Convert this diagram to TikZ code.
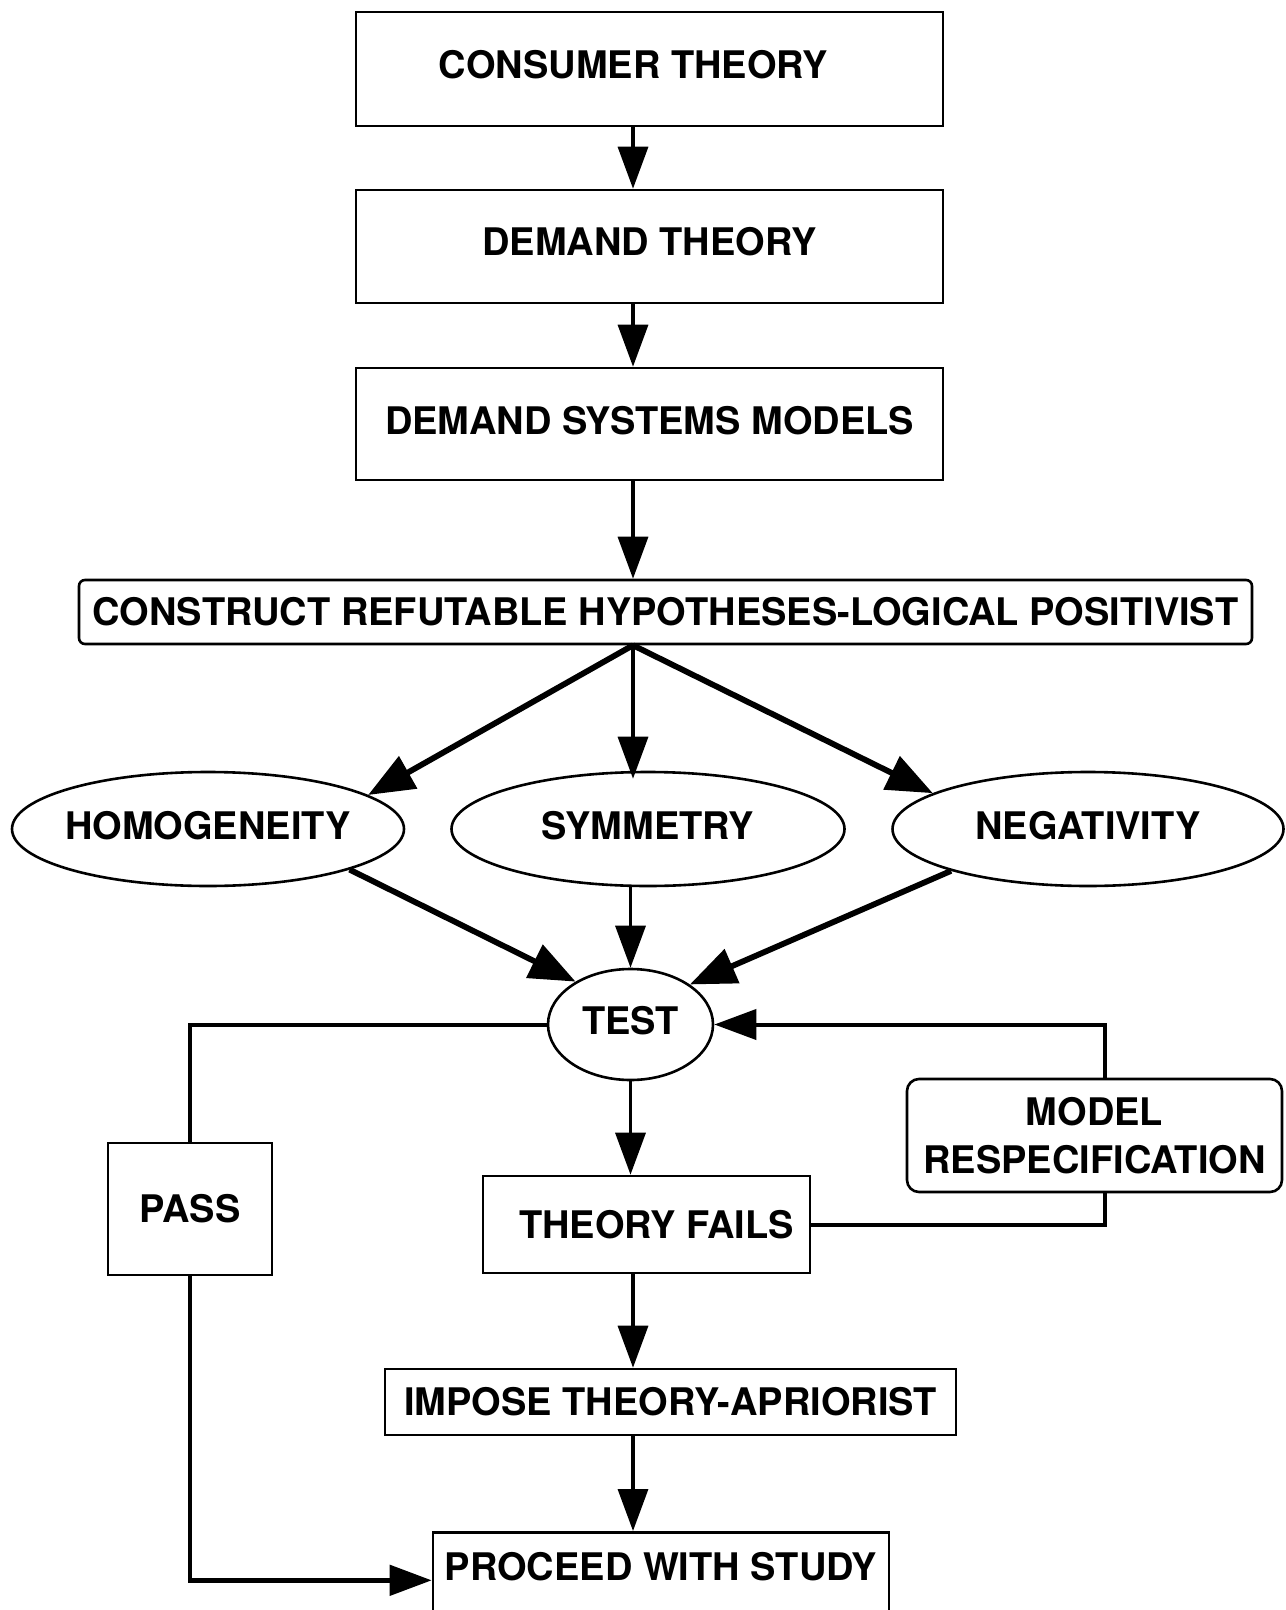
\documentclass[tikz,border=0pt]{standalone}
\usepackage{fontspec}
\setmainfont{TeX Gyre Heros}
\usetikzlibrary{arrows.meta,shapes.geometric}

\begin{document}
\begin{tikzpicture}[x=0.5pt,y=-0.5pt,
  font=\fontsize{19}{24}\selectfont\bfseries,
  box/.style={draw,line width=1.3pt,inner sep=2pt},
  oval/.style={ellipse,draw,line width=1.3pt,inner xsep=-6pt,inner ysep=0pt,text depth=4pt},
  arr/.style={-{Triangle[length=21pt,width=15pt]},line width=1.7pt},
  fat/.style={-{Triangle[length=23pt,width=18pt]},line width=2.9pt},
  link/.style={line width=2pt}]
\useasboundingbox (0,0) rectangle (1285,1610);
\coordinate (spine) at (633,0);
% top column
\node[box,text depth=5pt,minimum width=293.5pt,minimum height=57pt] (cons) at (649.5,69) {CONSUMER THEORY\hspace*{16pt}};
\node[box,text depth=5pt,minimum width=293.5pt,minimum height=56.5pt] (dem) at (649.5,246.5) {DEMAND THEORY};
\node[box,text depth=4pt,minimum width=293.5pt,minimum height=56pt] (dsm) at (649.5,424) {DEMAND SYSTEMS MODELS};
\node[box,rounded corners=3pt,minimum width=586.5pt,minimum height=32pt] (hyp) at (665.5,612) {CONSTRUCT REFUTABLE HYPOTHESES-LOGICAL POSITIVIST};
% restrictions
\node[oval,minimum width=196pt,minimum height=57pt] (homo) at (208,829) {HOMOGENEITY};
\node[oval,minimum width=196.5pt,minimum height=57pt] (sym) at (648,829) {SYMMETRY};
\node[oval,minimum width=195.5pt,minimum height=57pt] (neg) at (1088,829) {NEGATIVITY};
\node[oval,minimum width=82.5pt,minimum height=55.5pt] (test) at (630.5,1024.5) {TEST};
% outcomes
\node[box,minimum width=82pt,minimum height=66pt] (pass) at (190,1209) {PASS};
\node[box,minimum width=163.5pt,minimum height=48.5pt] (fail) at (646.5,1224.5) {\hspace*{10pt}THEORY FAILS};
\node[box,rounded corners=6pt,align=center,minimum width=187.5pt,minimum height=56.5pt] (resp) at (1094.5,1135.5) {MODEL\\RESPECIFICATION};
\node[box,minimum width=285.5pt,minimum height=33pt] (impose) at (670.5,1402) {IMPOSE THEORY-APRIORIST};
\node[box,anchor=north,minimum width=228pt,inner ysep=10pt,text height=14pt,text depth=60pt] (proceed) at (661,1531) {PROCEED WITH STUDY};
% connectors
\draw[arr] (cons.south -| spine) -- (dem.north -| spine);
\draw[arr] (dem.south -| spine) -- (dsm.north -| spine);
\draw[arr] (dsm.south -| spine) -- (hyp.north -| spine);
\draw[fat] (hyp.south -| spine) -- (homo.12);
\draw[arr] (hyp.south -| spine) -- ([yshift=-4pt]sym.north -| spine);
\draw[fat] (hyp.south -| spine) -- (neg.167);
\draw[fat] (homo.344) -- (test.142);
\draw[arr] (sym.south -| test) -- (test.north);
\draw[fat] (neg.197) -- (test.34);
\draw[link] (test.west) -| (pass.north);
\draw[arr,line width=2pt] ([xshift=5pt]resp.north) |- (test.east);
\draw[arr] (test.south) -- (test.south |- fail.north);
\draw[link] (fail.east) -| ([xshift=5pt]resp.south);
\draw[arr] (fail.south -| spine) -- (impose.north -| spine);
\draw[arr] (impose.south -| spine) -- (proceed.north -| spine);
\draw[arr,line width=2.4pt] (pass.south) |- (proceed.base west);
\end{tikzpicture}
\end{document}
